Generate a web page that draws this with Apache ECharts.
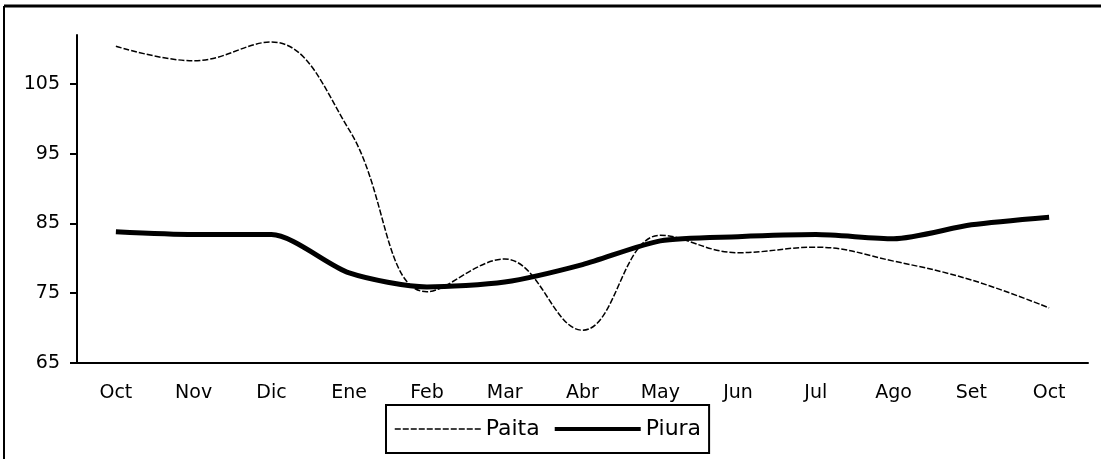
<!DOCTYPE html>
<html>
<head>
<meta charset="utf-8">
<script src="https://cdn.jsdelivr.net/npm/echarts@6/dist/echarts.min.js"></script>
<style>
html,body{margin:0;padding:0;background:#fff;}
#c{width:1101px;height:459px;}
</style>
</head>
<body>
<div id="c"></div>
<script>
var months = ['Oct','Nov','Dic','Ene','Feb','Mar','Abr','May','Jun','Jul','Ago','Set','Oct'];
var paita = [110.4, 108.3, 111.0, 98.4, 75.2, 79.9, 69.7, 83.3, 80.8, 81.6, 79.6, 76.9, 72.9];
var piura = [83.8, 83.4, 83.4, 77.9, 75.9, 76.6, 79.1, 82.5, 83.1, 83.4, 82.8, 84.8, 85.9];
var yTicks = [65, 75, 85, 95, 105];

var chart = echarts.init(document.getElementById('c'), null, {renderer:'canvas'});
var font = 'DejaVu Sans';
chart.setOption({
  backgroundColor: '#fff',
  animation: false,
  graphic: [
    {type:'line', shape:{x1:4,y1:6,x2:1101,y2:6}, style:{stroke:'#000', lineWidth:3}},
    {type:'line', shape:{x1:4,y1:6,x2:4,y2:459}, style:{stroke:'#000', lineWidth:2}}
  ],
  grid: {left:77, right:13, top:35, bottom:96},
  legend: {
    left: 386, top: 405,
    padding: [13, 8, 13, 8],
    borderColor: '#000', borderWidth: 2,
    itemWidth: 86, itemHeight: 24, itemGap: 13,
    itemStyle: {opacity: 0},
    textStyle: {fontFamily: font, fontSize: 22, color: '#000'},
    data: [
      {name: 'Paita', lineStyle: {width: 1.5, type: [6, 2], color: '#000'}},
      {name: 'Piura', lineStyle: {width: 4, type: 'solid', color: '#000'}}
    ]
  },
  xAxis: {
    type: 'category',
    data: months,
    boundaryGap: true,
    axisLine: {lineStyle:{color:'#000', width:2}},
    axisTick: {length:5, lineStyle:{color:'#000', width:2}},
    axisLabel: {fontFamily: font, fontSize: 19, color:'#000', margin: 21},
    splitLine: {show:false}
  },
  yAxis: {
    type: 'value',
    min: 65, max: 112, interval: 10,
    axisLine: {show:true, lineStyle:{color:'#000', width:2}},
    axisTick: {show:true, length:7, lineStyle:{color:'#000', width:2}, customValues: yTicks},
    axisLabel: {fontFamily: font, fontSize: 19, color:'#000', margin: 17, customValues: yTicks},
    splitLine: {show:false}
  },
  series: [
    {
      name: 'Paita', type: 'line', data: paita, smooth: 0.4,
      symbol: 'none', color: '#000',
      lineStyle: {color:'#000', width:1.5, type:[6,2]}
    },
    {
      name: 'Piura', type: 'line', data: piura, smooth: 0.25,
      symbol: 'none', color: '#000',
      lineStyle: {color:'#000', width:5}
    }
  ]
});
</script>
</body>
</html>
